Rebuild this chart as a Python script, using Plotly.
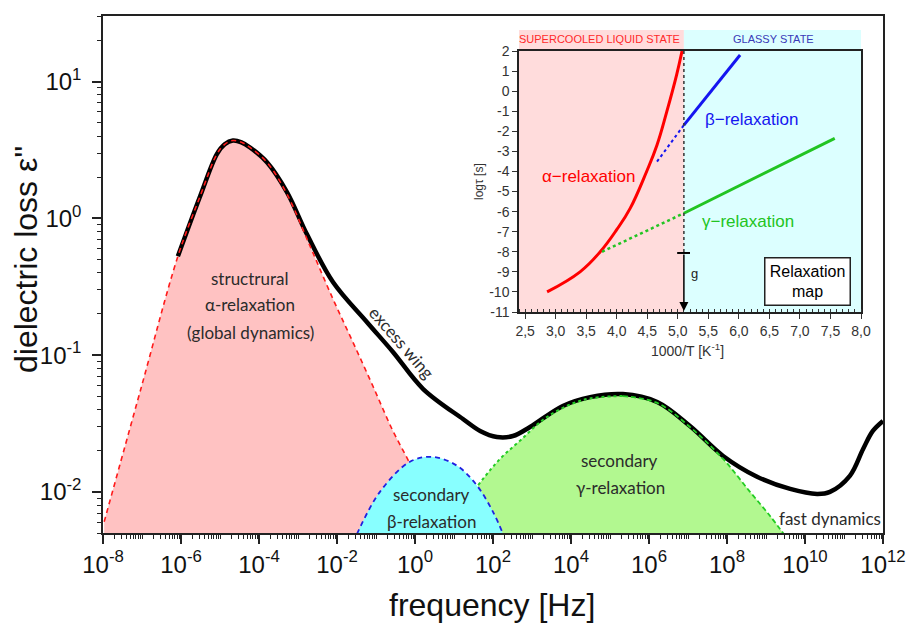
import numpy as np
import plotly.graph_objects as go

# ---------------- main spectrum data ----------------
# frequencies given as log10(f / Hz), losses as epsilon''
total_logf = [-6.08, -5.51, -5.08, -4.88, -4.67, -4.45, -4.23, -3.79, -3.28, -2.77, -2.10, -1.23,
              -0.56, 0.21, 1.23, 1.67, 2.10, 2.51, 2.95, 3.79, 4.49, 5.33, 6.21,
              7.05, 7.90, 8.77, 9.62, 10.31, 10.64, 11.15, 11.49, 11.74, 12.0]
total_eps = [0.528, 1.45, 2.95, 3.48, 3.71, 3.60, 3.30, 2.56, 1.55, 0.764, 0.341, 0.174,
             0.105, 0.0565, 0.0341, 0.0279, 0.0252, 0.0256, 0.0298, 0.0425, 0.0493, 0.0519, 0.0454,
             0.0303, 0.0183, 0.0129, 0.0105, 0.00966, 0.0100, 0.0131, 0.0206, 0.0279, 0.0330]

alpha_logf = [-7.97, -7.03, -6.08, -5.51, -5.08, -4.88, -4.67, -4.45, -4.23, -3.79, -3.28, -2.69,
              -2.10, -1.59, -1.08, -0.59, -0.13, 0.26, 0.67]
alpha_eps = [0.00604, 0.0565, 0.528, 1.45, 2.95, 3.48, 3.71, 3.60, 3.30, 2.56, 1.50, 0.625,
             0.256, 0.124, 0.0594, 0.0288, 0.0160, 0.00889, 0.00493]

beta_logf = [-1.49, -0.90, -0.13, 0.46, 1.08, 1.59, 2.00, 2.26]
beta_eps = [0.0049, 0.0100, 0.0166, 0.0180, 0.0155, 0.0111, 0.00714, 0.0049]

gamma_logf = [1.62, 2.18, 2.69, 3.38, 4.31, 5.33, 6.21, 7.05, 7.90, 8.59, 9.10, 9.49]
gamma_eps = [0.0112, 0.0174, 0.0236, 0.0352, 0.0470, 0.0502, 0.0447, 0.0298, 0.0174,
             0.0100, 0.00668, 0.00477]
gamma_peak_index = 5

x_tick_exp = [-8, -6, -4, -2, 0, 2, 4, 6, 8, 10, 12]
y_tick_exp = [-2, -1, 0, 1]

# ---------------- inset (relaxation map) data ----------------
alpha_invT = [2.86, 3.40, 3.73, 4.00, 4.22, 4.49, 4.66, 4.82, 4.98, 5.07]
alpha_logtau = [-10.0, -9.0, -8.0, -6.9, -5.84, -4.0, -2.68, -1.02, 0.8, 2.0]
beta_dot_invT = [4.66, 5.10]
beta_dot_logtau = [-3.51, -1.69]
beta_invT = [5.10, 6.02]
beta_logtau = [-1.69, 1.80]
gamma_dot_invT = [3.76, 5.10]
gamma_dot_logtau = [-8.0, -6.08]
gamma_invT = [5.10, 7.57]
gamma_logtau = [-6.08, -2.35]
TG = 5.1
TG_MARK = -8.06
inset_xticks = [2.5, 3.0, 3.5, 4.0, 4.5, 5.0, 5.5, 6.0, 6.5, 7.0, 7.5, 8.0]
inset_xlabels = ["2,5", "3,0", "3,5", "4,0", "4,5", "5,0", "5,5", "6,0", "6,5", "7,0", "7,5", "8,0"]
inset_yticks = list(range(-11, 3))
inset_ylabels = [str(v) for v in inset_yticks]

# ---------------- geometry helpers ----------------
W, H = 906, 625
ML, MR, MT, MB = 103, 23, 16, 92
PW, PH = W - ML - MR, H - MT - MB


def P(px, py):
    return (px - ML) / PW, (H - MB - py) / PH


ARIAL = "Liberation Sans, Arial, sans-serif"
CAL = "Lato, Open Sans, sans-serif"
TXT = "#2b2b2b"

f = lambda lf: np.power(10.0, np.array(lf))
SM = 1.0

fig = go.Figure()

# fills (alpha, gamma)
fig.add_trace(go.Scatter(x=f(alpha_logf), y=alpha_eps, mode="lines", fill="tozeroy",
                         fillcolor="#FFC2C2", line=dict(width=0, shape="spline", smoothing=SM),
                         hoverinfo="skip", showlegend=False))
fig.add_trace(go.Scatter(x=f(gamma_logf), y=gamma_eps, mode="lines", fill="tozeroy",
                         fillcolor="#B2F890", line=dict(width=0, shape="spline", smoothing=SM),
                         hoverinfo="skip", showlegend=False))
# total
fig.add_trace(go.Scatter(x=f(total_logf), y=total_eps, mode="lines",
                         line=dict(color="black", width=4.5, shape="spline", smoothing=SM),
                         showlegend=False))
# alpha / gamma outlines
fig.add_trace(go.Scatter(x=f(alpha_logf), y=alpha_eps, mode="lines",
                         line=dict(color="#FF1A1A", width=1.6, dash="5px,4px", shape="spline", smoothing=SM),
                         showlegend=False))
fig.add_trace(go.Scatter(x=f(gamma_logf[:gamma_peak_index + 1]), y=gamma_eps[:gamma_peak_index + 1], mode="lines",
                         line=dict(color="#22CC22", width=2, dash="dot", shape="spline", smoothing=SM),
                         showlegend=False))
fig.add_trace(go.Scatter(x=f(gamma_logf[gamma_peak_index:]), y=gamma_eps[gamma_peak_index:], mode="lines",
                         line=dict(color="#22CC22", width=1.8, dash="5px,3px", shape="spline", smoothing=SM),
                         showlegend=False))
# beta on top
fig.add_trace(go.Scatter(x=f(beta_logf), y=beta_eps, mode="lines", fill="tozeroy",
                         fillcolor="#88FFFF", line=dict(width=0, shape="spline", smoothing=SM),
                         hoverinfo="skip", showlegend=False))
fig.add_trace(go.Scatter(x=f(beta_logf), y=beta_eps, mode="lines",
                         line=dict(color="#2020E0", width=1.8, dash="5px,4px", shape="spline", smoothing=SM),
                         showlegend=False))

# inset curves
fig.add_trace(go.Scatter(x=alpha_invT, y=alpha_logtau, xaxis="x2", yaxis="y2", mode="lines",
                         line=dict(color="#FF0000", width=3, shape="spline", smoothing=1.2), showlegend=False))
fig.add_trace(go.Scatter(x=beta_dot_invT, y=beta_dot_logtau, xaxis="x2", yaxis="y2", mode="lines",
                         line=dict(color="#1515F0", width=2, dash="dot"), showlegend=False))
fig.add_trace(go.Scatter(x=beta_invT, y=beta_logtau, xaxis="x2", yaxis="y2", mode="lines",
                         line=dict(color="#1515F0", width=3), showlegend=False))
fig.add_trace(go.Scatter(x=gamma_dot_invT, y=gamma_dot_logtau, xaxis="x2", yaxis="y2", mode="lines",
                         line=dict(color="#22C422", width=2.5, dash="dot"), showlegend=False))
fig.add_trace(go.Scatter(x=gamma_invT, y=gamma_logtau, xaxis="x2", yaxis="y2", mode="lines",
                         line=dict(color="#22C422", width=3), showlegend=False))

# inset geometry
ix0, iy0 = P(519, 312)
ix1, iy1 = P(861, 51)
_, ihead = P(0, 30)

shapes = [
    dict(type="rect", xref="x2", yref="paper", x0=2.4, x1=TG, y0=iy0, y1=ihead,
         fillcolor="#FFDCDC", line=dict(width=0), layer="below"),
    dict(type="rect", xref="x2", yref="paper", x0=TG, x1=8.0, y0=iy0, y1=ihead,
         fillcolor="#DCFFFF", line=dict(width=0), layer="below"),
    dict(type="line", xref="x2", yref="y2", x0=TG, x1=TG, y0=2, y1=TG_MARK,
         line=dict(color="#333333", width=1.5, dash="dot")),
    dict(type="line", xref="x2", yref="y2", x0=TG - 0.11, x1=TG + 0.1, y0=TG_MARK, y1=TG_MARK,
         line=dict(color="black", width=2)),
]

ann = []


def text(px, py, s, size=17, color=TXT, family=CAL, angle=0):
    x, y = P(px, py)
    ann.append(dict(x=x, y=y, xref="paper", yref="paper", text=s, showarrow=False,
                    font=dict(size=size, color=color, family=family), textangle=angle,
                    xanchor="center", yanchor="middle"))


text(250, 278, "structrural")
text(250, 305, "α-relaxation")
text(250, 332, "(global dynamics)")
text(402, 342, "excess wing", angle=49)
text(431, 494, "secondary")
text(431, 521, "β-relaxation")
text(619, 460, "secondary")
text(620, 487, "γ-relaxation")
text(830, 518, "fast dynamics")

# axis titles
text(492, 605, "frequency [Hz]", size=32, color="#111", family=ARIAL)
text(26, 260, "dielectric loss ε''", size=32, color="#111", family=ARIAL, angle=-90)
# inset titles
text(687, 350, "1000/T [K<sup>-1</sup>]", size=14, color="#333", family=ARIAL)
text(479, 182, "logτ [s]", size=12, color="#333", family=ARIAL, angle=-90)

_, yhead = P(0, 39)
ann.append(dict(x=3.71, y=yhead, xref="x2", yref="paper", text="SUPERCOOLED LIQUID STATE",
                showarrow=False, yanchor="middle", xanchor="center",
                font=dict(size=11, color="#FF2A2A", family=ARIAL)))
ann.append(dict(x=6.57, y=yhead, xref="x2", yref="paper", text="GLASSY STATE",
                showarrow=False, yanchor="middle", xanchor="center",
                font=dict(size=11, color="#3A3AB8", family=ARIAL)))
ann.append(dict(x=6.20, y=-1.39, xref="x2", yref="y2", text="β−relaxation", showarrow=False,
                font=dict(size=17, color="#1515F0", family=ARIAL)))
ann.append(dict(x=3.53, y=-4.27, xref="x2", yref="y2", text="α−relaxation", showarrow=False,
                font=dict(size=17, color="#FF0000", family=ARIAL)))
ann.append(dict(x=6.15, y=-6.47, xref="x2", yref="y2", text="γ−relaxation", showarrow=False,
                font=dict(size=17, color="#22C422", family=ARIAL)))
ann.append(dict(x=5.27, y=-9.1, xref="x2", yref="y2", text="g", showarrow=False,
                font=dict(size=13, color="#222", family=ARIAL)))
ann.append(dict(x=TG, y=-10.95, xref="x2", yref="y2", ax=TG, ay=TG_MARK, axref="x2", ayref="y2",
                text="", showarrow=True, arrowhead=2, arrowsize=1.2, arrowwidth=1.5, arrowcolor="black"))
ann.append(dict(x=7.13, y=-9.5, xref="x2", yref="y2", text="Relaxation<br>map", showarrow=False,
                font=dict(size=16, color="black", family=ARIAL), bgcolor="white",
                bordercolor="#222", borderwidth=1.5, borderpad=2, width=80, height=42))

axis_line = dict(showline=True, linecolor="#222", linewidth=1.5, mirror=True,
                 showgrid=False, zeroline=False, automargin=False)

fig.update_layout(
    template="none",
    width=W, height=H,
    margin=dict(l=ML, r=MR, t=MT, b=MB, pad=0, autoexpand=False),
    paper_bgcolor="white", plot_bgcolor="rgba(0,0,0,0)",
    showlegend=False,
    separators=", ",
    shapes=shapes, annotations=ann,
    xaxis=dict(type="log", range=[-8, 12],
               tickvals=[10.0 ** e for e in x_tick_exp],
               ticktext=[f"10<sup>{e}</sup>" for e in x_tick_exp],
               ticks="outside", ticklen=9, tickwidth=1.5, tickcolor="#222",
               tickfont=dict(size=24, color="#111", family=ARIAL),
               minor=dict(ticks="outside", ticklen=4, tickwidth=1, tickcolor="#222", dtick="D1",
                          showgrid=False),
               **axis_line),
    yaxis=dict(type="log", range=[np.log10(0.005), 1.48],
               tickvals=[10.0 ** e for e in y_tick_exp],
               ticktext=[f"10<sup>{e}</sup>" for e in y_tick_exp],
               ticks="outside", ticklen=9, tickwidth=1.5, tickcolor="#222",
               ticklabelstandoff=6,
               tickfont=dict(size=24, color="#111", family=ARIAL),
               minor=dict(ticks="outside", ticklen=4, tickwidth=1, tickcolor="#222", dtick="D1",
                          showgrid=False),
               **axis_line),
    xaxis2=dict(domain=[ix0, ix1], anchor="y2", range=[2.4, 8.0],
                tickvals=inset_xticks, ticktext=inset_xlabels,
                ticks="outside", ticklen=5, tickwidth=1.2, tickcolor="#333",
                tickfont=dict(size=14, color="#333", family=ARIAL),
                minor=dict(ticks="inside", ticklen=3, tickwidth=1, tickcolor="#333", dtick=0.1,
                           showgrid=False),
                **axis_line),
    yaxis2=dict(domain=[iy0, iy1], anchor="x2", range=[-11, 2],
                tickvals=inset_yticks, ticktext=inset_ylabels,
                ticks="outside", ticklen=5, tickwidth=1.2, tickcolor="#333",
                tickfont=dict(size=14, color="#333", family=ARIAL),
                **axis_line),
)

fig.write_html("out.html")
